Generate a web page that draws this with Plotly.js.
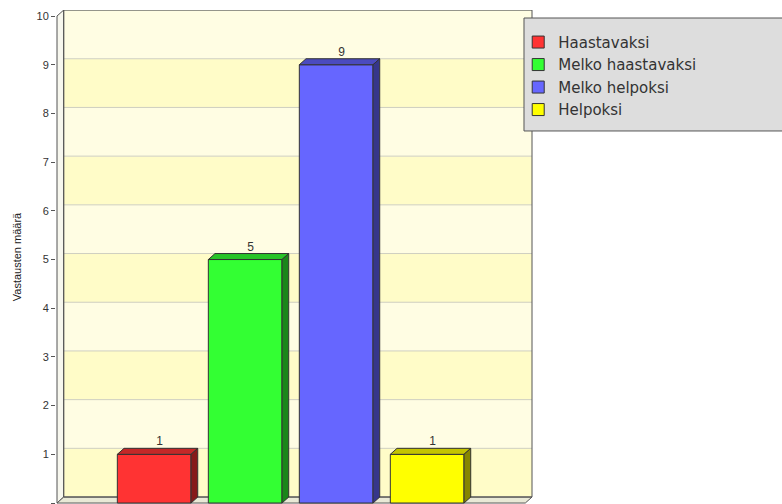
<!DOCTYPE html>
<html>
<head>
<meta charset="utf-8">
<script src="https://cdn.plot.ly/plotly-3.0.1.min.js"></script>
<style>html,body{margin:0;padding:0;background:#fff;}#chart{width:782px;height:504px;}</style>
</head>
<body>
<div id="chart"></div>
<script>
// ---- data ----
const categories = ['Haastavaksi', 'Melko haastavaksi', 'Melko helpoksi', 'Helpoksi'];
const values = [1, 5, 9, 1];
const frontColors = ['#ff3333', '#33ff33', '#6666ff', '#ffff00'];
const topColors = ['#c42828', '#28c428', '#4b4bbf', '#c4c400'];
const sideColors = ['#861a1a', '#1a861a', '#36368a', '#868600'];
const yTicks = [0, 1, 2, 3, 4, 5, 6, 7, 8, 9, 10];

// ---- geometry of the pseudo-3D frame (axis units) ----
const Y_MIN = -0.02;
const X_MIN = -1.079, X_MAX = 4.163, Y_MAX = 10.124;
const FRONT_LEFT = -1.068;
const DX = 0.0736, DY = 0.123, HALF = 0.405;
const BACK_LEFT = FRONT_LEFT + DX, BACK_RIGHT = 4.152;
const OUTLINE = '#333333';

const traces = [];
const xs = categories.map((c, i) => i);

// front faces (real bars)
categories.forEach((c, i) => {
  traces.push({
    type: 'bar', x: [xs[i]], y: [values[i]], width: 2 * HALF, name: c,
    marker: {color: frontColors[i], line: {color: OUTLINE, width: 1}},
    hoverinfo: 'name+y', legendgroup: 'g' + i
  });
});
// top and side faces
categories.forEach((c, i) => {
  const x = xs[i], v = values[i];
  traces.push({
    type: 'scatter', mode: 'lines', showlegend: false, hoverinfo: 'skip',
    x: [x - HALF, x - HALF + DX, x + HALF + DX, x + HALF, x - HALF],
    y: [v, v + DY, v + DY, v, v],
    fill: 'toself', fillcolor: topColors[i], line: {color: OUTLINE, width: 1}
  });
  traces.push({
    type: 'scatter', mode: 'lines', showlegend: false, hoverinfo: 'skip',
    x: [x + HALF, x + HALF + DX, x + HALF + DX, x + HALF, x + HALF],
    y: [0, DY, v + DY, v, 0],
    fill: 'toself', fillcolor: sideColors[i], line: {color: OUTLINE, width: 1}
  });
});
// value labels
traces.push({
  type: 'scatter', mode: 'text', showlegend: false, hoverinfo: 'skip',
  x: xs.map(x => x + 0.8 * DX), y: values.map(v => v + DY),
  text: values.map(String), textposition: 'top center', cliponaxis: false,
  textfont: {family: 'Liberation Sans, Arial, sans-serif', size: 12, color: '#333333'}
});

// ---- walls ----
const shapes = [];
for (let k = 0; k < 10; k++) {
  shapes.push({type: 'rect', xref: 'x', yref: 'y', layer: 'below',
    x0: BACK_LEFT, x1: BACK_RIGHT, y0: k + DY, y1: k + 1 + DY,
    fillcolor: (k % 2 === 0) ? '#fffcc8' : '#fffde3', line: {width: 0}});
}
yTicks.forEach(v => {
  shapes.push({type: 'line', xref: 'x', yref: 'y', layer: 'below',
    x0: BACK_LEFT, x1: BACK_RIGHT, y0: v + DY, y1: v + DY,
    line: {color: '#cfcfc0', width: 1}});
});
// left wall
shapes.push({type: 'path', xref: 'x', yref: 'y', layer: 'below',
  path: `M${FRONT_LEFT},0 L${FRONT_LEFT},10 L${BACK_LEFT},${10 + DY} L${BACK_LEFT},${DY} Z`,
  fillcolor: '#f7f7ee', line: {color: '#555555', width: 1}});
// floor
shapes.push({type: 'path', xref: 'x', yref: 'y', layer: 'below',
  path: `M${FRONT_LEFT},0 L${BACK_LEFT},${DY} L${BACK_RIGHT},${DY} L${BACK_RIGHT - DX},0 Z`,
  fillcolor: '#e9e9d6', line: {color: '#555555', width: 1}});
// back wall outline
shapes.push({type: 'rect', xref: 'x', yref: 'y', layer: 'below',
  x0: BACK_LEFT, x1: BACK_RIGHT, y0: DY, y1: 10 + DY,
  line: {color: '#555555', width: 1}});
// legend box
shapes.push({type: 'rect', xref: 'paper', yref: 'paper', layer: 'above',
  x0: 0.9811, x1: 1.55, y0: 0.7551, y1: 0.9838,
  fillcolor: '#dddddd', line: {color: '#555555', width: 1}});

const layout = {
  width: 782, height: 504,
  margin: {l: 56, r: 249, t: 10, b: 0},
  paper_bgcolor: '#ffffff', plot_bgcolor: '#ffffff',
  barmode: 'overlay', showlegend: true,
  xaxis: {range: [X_MIN, X_MAX], showgrid: false, zeroline: false, showticklabels: false,
    ticks: '', showline: false, fixedrange: true},
  yaxis: {range: [Y_MIN, Y_MAX], tickvals: yTicks, ticktext: yTicks.map(String),
    showgrid: false, zeroline: false, showline: false, ticks: 'outside', ticklen: 4,
    tickcolor: '#555555', tickfont: {family: 'Liberation Sans, Arial, sans-serif', size: 11, color: '#333333'},
    title: {text: 'Vastausten määrä', standoff: 12,
      font: {family: 'Liberation Sans, Arial, sans-serif', size: 11, color: '#222222'}},
    automargin: false, fixedrange: true},
  legend: {x: 0.969, y: 0.968, xanchor: 'left', yanchor: 'top', bgcolor: 'rgba(0,0,0,0)',
    borderwidth: 0, traceorder: 'normal',
    font: {family: 'DejaVu Sans, sans-serif', size: 15, color: '#333333'}},
  shapes: shapes
};

Plotly.newPlot('chart', traces, layout, {displayModeBar: false, staticPlot: true});
</script>
</body>
</html>
